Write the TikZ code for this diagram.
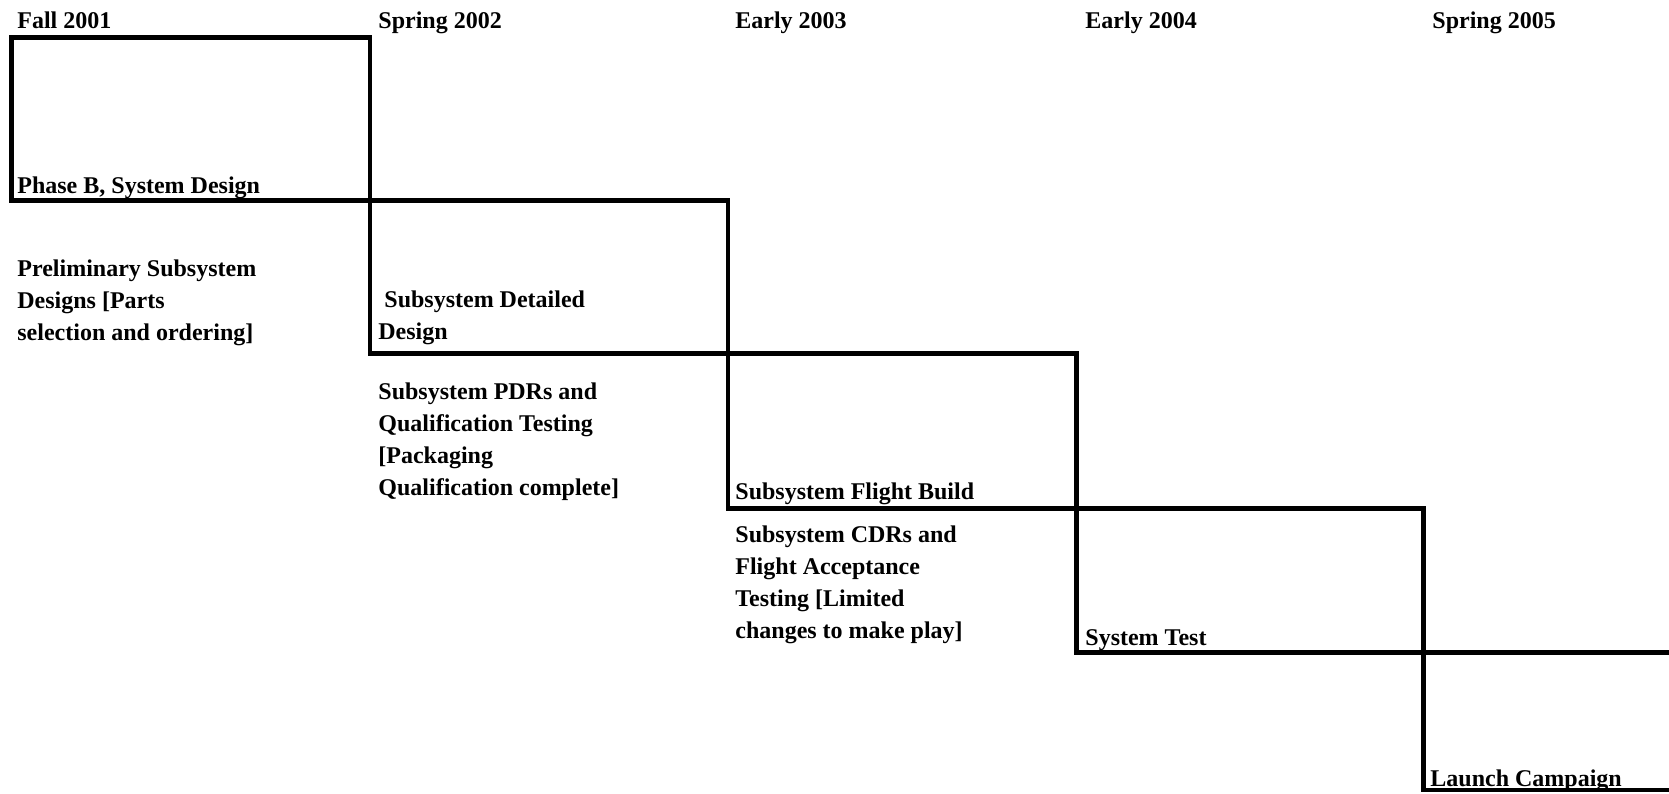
\documentclass[tikz,border=0pt]{standalone}
\usepackage{fontspec}
\setmainfont{Liberation Serif}
\tikzset{
  stage/.style={draw=black, line width=2.25pt},
  datelabel/.style={anchor=base west, inner sep=0pt, font=\bfseries\fontsize{12}{16}\selectfont},
  stagetext/.style={anchor=base west, inner sep=0pt, align=left, font=\bfseries\fontsize{12}{16}\selectfont}
}
\begin{document}
\begin{tikzpicture}[x=0.5pt, y=-0.5pt]
  \clip (0,0) rectangle (1669,793);

  % waterfall stages
  \draw[stage] (11.5,37.5) rectangle (370,200.5);
  \draw[stage] (370,200.5) rectangle (728,353.5);
  \draw[stage] (728,353.5) rectangle (1076.5,508.5);
  \draw[stage] (1076.5,508.5) rectangle (1423.5,652.5);
  \draw[stage] (1423.5,652.5) rectangle (1720,790);

  % dates
  \node[datelabel] (fall01) at (17,28) {Fall 2001};
  \node[datelabel] (spring02) at (378,28) {Spring 2002};
  \node[datelabel] (early03) at (735,28) {Early 2003};
  \node[datelabel] (early04) at (1085,28) {Early 2004};
  \node[datelabel] (spring05) at (1432,28) {Spring 2005};

  % stage names and milestones (multi-line texts sit on their last line)
  \node[stagetext] (phaseb) at (17,193) {Phase B, System Design};
  \node[stagetext] (prelim) at (17,340) {Preliminary Subsystem\\Designs [Parts\\selection and ordering]};
  \node[stagetext] (detailed) at (378,339) {\ Subsystem Detailed\\Design};
  \node[stagetext] (pdr) at (378,495) {Subsystem PDRs and\\Qualification Testing\\{}[Packaging\\Qualification complete]};
  \node[stagetext] (flight) at (735,499) {Subsystem Flight Build};
  \node[stagetext] (cdr) at (735,638) {Subsystem CDRs and\\Flight Acceptance\\Testing [Limited\\changes to make play]};
  \node[stagetext] (systest) at (1085,645) {System Test};
  \node[stagetext] (launch) at (1430,786) {Launch Campaign};
\end{tikzpicture}
\end{document}
